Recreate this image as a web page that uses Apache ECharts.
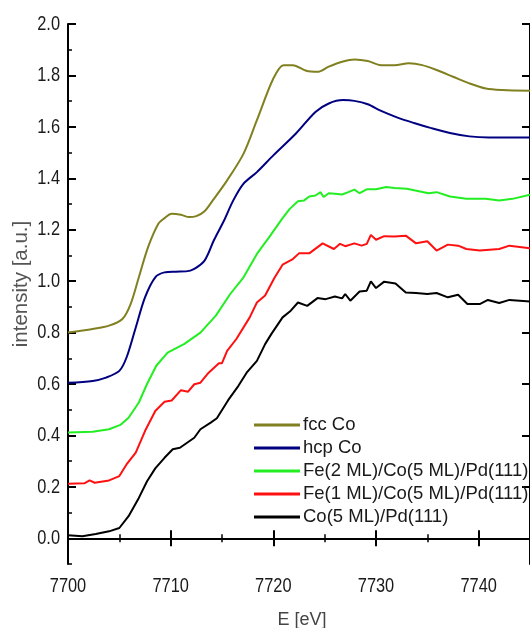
<!DOCTYPE html>
<html><head><meta charset="utf-8">
<script src="https://cdn.jsdelivr.net/npm/echarts@6/dist/echarts.min.js"></script>
<style>html,body{margin:0;padding:0;background:#fff}#c{width:530px;height:628px}</style>
</head><body><div id="c"></div>
<script>
const seriesNames = ['fcc Co','hcp Co','Fe(2 ML)/Co(5 ML)/Pd(111)','Fe(1 ML)/Co(5 ML)/Pd(111)','Co(5 ML)/Pd(111)'];
const xTickLabels = [7700,7710,7720,7730,7740];
const yTickLabels = ['0.0','0.2','0.4','0.6','0.8','1.0','1.2','1.4','1.6','1.8','2.0'];
const yMinorTicks = [-0.1,0.1,0.3,0.5,0.7,0.9,1.1,1.3,1.5,1.7,1.9];

const fccE = [7700,7702.4,7704.0,7705.3,7706.1,7706.9,7707.8,7708.8,7709.4,7710.1,7711.0,7711.8,7712.5,7713.3,7714.1,7715.5,7717.1,7718.4,7720.0,7721.0,7721.9,7723.2,7724.3,7725.4,7726.7,7727.9,7729.2,7730.5,7731.8,7733.2,7734.5,7735.9,7737.5,7739.1,7740.7,7742.3,7745];
const fccI = [0.800,0.814,0.827,0.853,0.911,1.015,1.132,1.223,1.245,1.262,1.258,1.249,1.253,1.272,1.314,1.392,1.496,1.626,1.788,1.840,1.840,1.818,1.814,1.834,1.853,1.862,1.856,1.840,1.840,1.847,1.840,1.821,1.795,1.769,1.749,1.743,1.740];

const hcpE = [7700,7702.4,7703.7,7705.0,7705.7,7706.6,7707.5,7708.5,7709.4,7710.5,7711.5,7712.3,7713.3,7714.2,7715.2,7716.1,7717.1,7718.4,7720.0,7722.2,7724.1,7725.4,7726.8,7727.9,7729.2,7730.5,7732.1,7733.7,7735.3,7737.2,7739.1,7741.0,7745];
const hcpI = [0.605,0.612,0.625,0.651,0.703,0.820,0.937,1.015,1.034,1.037,1.038,1.048,1.080,1.158,1.236,1.314,1.379,1.424,1.489,1.574,1.658,1.691,1.704,1.701,1.688,1.662,1.636,1.615,1.596,1.576,1.563,1.559,1.559];

const fe2E = [7700,7702.4,7704.0,7705.1,7705.9,7706.9,7707.7,7708.6,7709.7,7711.3,7712.9,7714.4,7715.8,7717.1,7718.4,7719.6,7720.9,7721.6,7722.4,7723.0,7723.5,7724.1,7724.6,7724.9,7725.4,7726.0,7726.7,7727.3,7727.9,7728.4,7729.1,7730.0,7731.0,7731.8,7733.0,7734.3,7735.1,7735.9,7737.2,7738.8,7740.7,7742.0,7743.3,7745];
const fe2I = [0.411,0.414,0.424,0.441,0.469,0.528,0.600,0.671,0.722,0.755,0.800,0.866,0.950,1.015,1.106,1.171,1.245,1.281,1.311,1.314,1.329,1.333,1.346,1.327,1.342,1.340,1.337,1.346,1.356,1.342,1.357,1.357,1.366,1.362,1.359,1.349,1.342,1.346,1.329,1.320,1.320,1.314,1.320,1.336];

const fe1E = [7700,7701.6,7702.1,7702.6,7704.0,7705.0,7705.7,7706.6,7707.5,7708.5,7709.4,7710.1,7711.0,7711.7,7712.3,7712.9,7713.7,7714.7,7715.0,7715.5,7716.4,7717.7,7718.4,7719.2,7720.1,7720.9,7721.9,7722.5,7723.5,7724.8,7725.9,7726.5,7727.0,7727.9,7728.6,7729.1,7729.5,7730.0,7730.8,7731.8,7732.9,7733.9,7735.0,7735.9,7737.0,7738.0,7738.8,7740.1,7742.0,7743.0,7745];
const fe1I = [0.212,0.214,0.225,0.216,0.225,0.242,0.287,0.333,0.417,0.495,0.531,0.536,0.576,0.570,0.599,0.605,0.644,0.681,0.681,0.729,0.775,0.859,0.917,0.944,1.012,1.064,1.086,1.108,1.108,1.147,1.125,1.145,1.136,1.147,1.138,1.145,1.180,1.161,1.175,1.174,1.177,1.147,1.155,1.119,1.142,1.138,1.125,1.119,1.125,1.138,1.128];

const coE = [7700,7701.4,7702.7,7704.0,7705.0,7705.9,7706.9,7707.7,7708.5,7709.4,7710.2,7710.9,7712.3,7712.9,7713.9,7714.5,7715.6,7716.6,7717.4,7718.4,7719.2,7719.8,7720.9,7721.7,7722.4,7723.3,7724.3,7725.1,7726.0,7726.7,7727.0,7727.5,7728.4,7729.1,7729.5,7730.0,7730.8,7731.9,7732.9,7733.9,7735.0,7735.9,7737.0,7738.0,7738.9,7740.1,7740.9,7742.0,7743.0,7745];
const coI = [0.012,0.008,0.017,0.027,0.040,0.086,0.157,0.222,0.272,0.313,0.346,0.352,0.391,0.424,0.450,0.467,0.537,0.593,0.644,0.690,0.755,0.794,0.859,0.885,0.917,0.904,0.934,0.930,0.940,0.933,0.950,0.924,0.960,0.963,0.999,0.973,0.998,0.991,0.956,0.954,0.950,0.954,0.937,0.947,0.911,0.911,0.927,0.915,0.927,0.921];

const colors = ['#808020','#000080','#22ee22','#ff1010','#000000'];
const Es = [fccE,hcpE,fe2E,fe1E,coE];
const Is = [fccI,hcpI,fe2I,fe1I,coI];

const chart = echarts.init(document.getElementById('c'));
const axisCol = '#000';
const yMajor = yTickLabels.map(Number);
const tickFont = 'Liberation Sans, Arial, sans-serif';
const yAxisBase = (pos) => ({
  type:'value', min:-0.1, max:2.0, position:pos,
  axisLine:{show:true, lineStyle:{color:axisCol, width:2}},
  splitLine:{show:false},
});
chart.setOption({
  animation:false,
  grid:{left:68, top:24, right:-7, bottom:64, containLabel:false},
  xAxis:[
    {type:'value', min:7700, max:7745, interval:10, position:'bottom',
     axisLine:{lineStyle:{color:axisCol,width:2}},
     axisTick:{inside:true,length:8,lineStyle:{color:axisCol,width:2}},
     minorTick:{show:true,splitNumber:2,length:4,lineStyle:{color:axisCol,width:1.5}},
     axisLabel:{show:false},
     splitLine:{show:false}},
    {type:'value', min:7700, max:7745, interval:10, position:'top',
     axisLine:{lineStyle:{color:axisCol,width:2}},
     axisTick:{inside:true,length:8,lineStyle:{color:axisCol,width:2}},
     minorTick:{show:true,splitNumber:2,length:4,lineStyle:{color:axisCol,width:1.5}},
     axisLabel:{show:false}, splitLine:{show:false}}
  ],
  yAxis:[
    Object.assign(yAxisBase('left'),{
      axisTick:{show:true,inside:true,length:8,customValues:yMajor,lineStyle:{color:axisCol,width:2}},
      axisLabel:{show:false}}),
    Object.assign(yAxisBase('left'),{
      axisLine:{show:false},
      axisTick:{show:true,inside:true,length:4,customValues:yMinorTicks,lineStyle:{color:axisCol,width:1.5}},
      axisLabel:{show:false}}),
    Object.assign(yAxisBase('right'),{
      axisTick:{show:true,inside:true,length:8,customValues:yMajor,lineStyle:{color:axisCol,width:2}},
      axisLabel:{show:false}}),
  ],
  legend:{
    orient:'vertical', left:249, top:410, icon:'rect', itemWidth:46, itemHeight:3, itemGap:3,
    textStyle:{color:'#1a1a1a',fontSize:18.5,fontFamily:'Liberation Sans, Arial, sans-serif',lineHeight:20,padding:[0,0,0,-2]},
    data:seriesNames
  },
  series: seriesNames.map((n,i)=>({
    name:n, type:'line', xAxisIndex:0, yAxisIndex:0, showSymbol:false, symbol:'none',
    smooth: i<2 ? 0.3 : false,
    lineStyle:{color:colors[i], width:2}, itemStyle:{color:colors[i]},
    data: Es[i].map((e,k)=>[e, Is[i][k]])
  }))
});

// tick labels in a condensed style, placed through the axes' own scales
const labelGraphics = [];
yTickLabels.forEach(t => {
  const py = chart.convertToPixel({yAxisIndex:0}, Number(t));
  labelGraphics.push({type:'text', x:60, y:py, scaleX:0.8,
    style:{text:t, fill:'#1a1a1a', fontSize:20.5, fontFamily:tickFont, align:'right', verticalAlign:'middle'}});
});
xTickLabels.forEach(t => {
  const px = chart.convertToPixel({xAxisIndex:0}, t);
  labelGraphics.push({type:'text', x:px, y:586, scaleX:0.8,
    style:{text:String(t), fill:'#1a1a1a', fontSize:20.5, fontFamily:tickFont, align:'center', verticalAlign:'middle'}});
});
labelGraphics.push({type:'text', x:302, y:620, style:{text:'E [eV]', fill:'#444', fontSize:18, fontFamily:tickFont, align:'center', verticalAlign:'middle'}});
labelGraphics.push({type:'text', x:21, y:284, rotation:Math.PI/2, style:{text:'intensity [a.u.]', fill:'#555', fontSize:20.5, fontFamily:tickFont, align:'center', verticalAlign:'middle'}});
chart.setOption({graphic:labelGraphics});
</script></body></html>
